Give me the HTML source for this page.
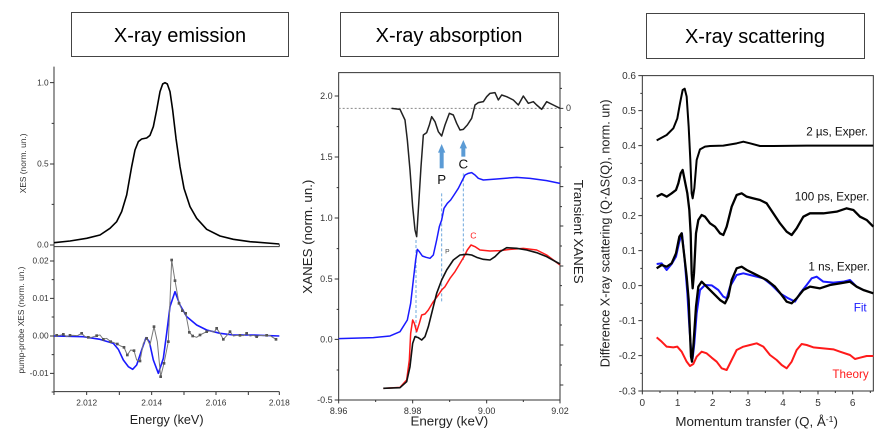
<!DOCTYPE html>
<html><head><meta charset="utf-8"><style>
html,body{margin:0;padding:0;background:#fff;}
svg{display:block;font-family:"Liberation Sans",sans-serif;}
.ax{stroke:#333;stroke-width:1;fill:none;vector-effect:non-scaling-stroke}
.c{fill:none;stroke-linejoin:round;vector-effect:non-scaling-stroke}
</style></head><body>
<svg width="888" height="432" viewBox="0 0 888 432" xmlns="http://www.w3.org/2000/svg">
<rect x="71.5" y="12.5" width="217" height="44" fill="#fff" stroke="#444" stroke-width="1"/>
<text x="180" y="42" font-size="20" text-anchor="middle" fill="#000">X-ray emission</text>
<rect x="340.5" y="12.5" width="218" height="44" fill="#fff" stroke="#444" stroke-width="1"/>
<text x="449" y="42" font-size="20" text-anchor="middle" fill="#000">X-ray absorption</text>
<rect x="646.5" y="13.5" width="218" height="45" fill="#fff" stroke="#444" stroke-width="1"/>
<text x="755" y="43" font-size="20" text-anchor="middle" fill="#000">X-ray scattering</text>

<!-- PANEL 1 -->
<g transform="translate(0,60) scale(0.33333)">
<path class="ax" d="M162 20V995H838M162 560H838"/>
<path class="ax" d="M150 68H162M150 312H162M150 555H162M155 190H162M155 433H162M150 603H162M150 715H162M150 828H162M150 940H162M155 659H162M155 771H162M155 884H162M155 996H162M162 995v10M260 995v10M358 995v10M455 995v10M552 995v10M648 995v10M745 995v10M838 995v10M838 553v7"/>
<g font-size="25" fill="#333" text-anchor="end">
<text x="146" y="76">1.0</text><text x="146" y="320">0.5</text><text x="146" y="563">0.0</text>
<text x="146" y="611">0.02</text><text x="146" y="723">0.01</text><text x="146" y="836">0.00</text><text x="146" y="948">-0.01</text>
</g>
<g font-size="25" fill="#333" text-anchor="middle">
<text x="260" y="1036">2.012</text><text x="455" y="1036">2.014</text><text x="648" y="1036">2.016</text><text x="838" y="1036">2.018</text>
</g>
<text x="500" y="1092" font-size="38" text-anchor="middle" fill="#222">Energy (keV)</text>
<text transform="translate(78,310) rotate(-90)" font-size="25" text-anchor="middle" fill="#333">XES (norm. un.)</text>
<text transform="translate(72,780) rotate(-90)" font-size="25" text-anchor="middle" fill="#333">pump-probe XES (norm. un.)</text>
<polyline class="c" stroke="#000" stroke-width="1.6" points="162,548 210,543 260,535 300,525 330,505 350,485 365,455 380,405 395,320 405,270 415,245 425,237 440,234 450,226 460,200 470,150 480,95 488,72 495,68 502,72 510,95 518,150 528,235 540,320 552,385 570,440 590,475 620,508 660,528 700,538 750,545 838,552"/>
<polyline class="c" stroke="#1a1aff" stroke-width="1.6" points="162,828 250,830 300,838 340,850 355,868 370,900 385,920 398,928 410,915 425,870 438,833 448,845 460,900 475,940 490,895 500,820 510,740 525,695 540,735 560,770 590,795 620,810 660,820 700,825 760,825 838,828"/>
<polyline class="c" stroke="#777" stroke-width="1" points="170,826 180,826 190,823 200,830 210,826 220,826 232,827 245,820 255,830 265,832 275,832 290,827 300,825 310,838 320,835 332,845 342,848 352,852 362,858 372,862 382,885 392,870 402,872 410,900 420,903 430,850 440,835 450,855 462,800 472,845 482,950 492,910 505,845 515,600 525,662 537,730 547,752 557,760 568,817 578,828 590,832 600,825 610,820 620,815 632,812 642,817 650,805 660,820 670,838 680,827 690,815 700,828 710,826 720,826 730,827 740,820 750,828 760,826 770,830 780,826 790,827 800,826 810,827 828,838"/>
<g fill="#555">
<rect x="166" y="822" width="8" height="8"/><rect x="186" y="819" width="8" height="8"/><rect x="206" y="822" width="8" height="8"/><rect x="241" y="816" width="8" height="8"/><rect x="261" y="828" width="8" height="8"/><rect x="286" y="823" width="8" height="8"/><rect x="306" y="834" width="8" height="8"/><rect x="328" y="841" width="8" height="8"/><rect x="348" y="848" width="8" height="8"/><rect x="368" y="858" width="8" height="8"/><rect x="378" y="881" width="8" height="8"/><rect x="398" y="868" width="8" height="8"/><rect x="416" y="899" width="8" height="8"/><rect x="436" y="831" width="8" height="8"/><rect x="458" y="796" width="8" height="8"/><rect x="478" y="946" width="8" height="8"/><rect x="488" y="906" width="8" height="8"/><rect x="501" y="841" width="8" height="8"/><rect x="511" y="596" width="8" height="8"/><rect x="521" y="658" width="8" height="8"/><rect x="533" y="726" width="8" height="8"/><rect x="543" y="748" width="8" height="8"/><rect x="553" y="756" width="8" height="8"/><rect x="564" y="813" width="8" height="8"/><rect x="574" y="824" width="8" height="8"/><rect x="596" y="821" width="8" height="8"/><rect x="616" y="811" width="8" height="8"/><rect x="646" y="801" width="8" height="8"/><rect x="666" y="834" width="8" height="8"/><rect x="686" y="811" width="8" height="8"/><rect x="716" y="822" width="8" height="8"/><rect x="736" y="816" width="8" height="8"/><rect x="766" y="826" width="8" height="8"/><rect x="796" y="822" width="8" height="8"/><rect x="824" y="834" width="8" height="8"/>
</g>
</g>

<!-- PANEL 2 -->
<g transform="translate(290,60) scale(0.33333)">
<path class="ax" d="M146 38H810V1020H146Z"/>
<path class="ax" d="M134 108H146M134 291H146M134 474H146M134 657H146M134 838H146M134 1020H146M140 200H146M140 383H146M140 566H146M140 748H146M140 930H146M146 1020v10M257 1020v6M368 1020v10M479 1020v6M590 1020v10M700 1020v6M810 1020v10M810 145h10M810 262h10M810 380h10M810 498h10M810 618h10M810 735h10M810 855h10M810 975h10M810 85h6M810 203h6M810 321h6M810 440h6M810 558h6M810 677h6M810 795h6M810 915h6"/>
<g font-size="27" fill="#333" text-anchor="end">
<text x="128" y="117">2.0</text><text x="128" y="300">1.5</text><text x="128" y="483">1.0</text><text x="128" y="666">0.5</text><text x="128" y="847">0.0</text><text x="128" y="1029">-0.5</text>
</g>
<text x="828" y="153" font-size="27" fill="#333">0</text>
<g font-size="27" fill="#333" text-anchor="middle">
<text x="146" y="1062">8.96</text><text x="368" y="1062">8.98</text><text x="590" y="1062">9.00</text><text x="810" y="1062">9.02</text>
</g>
<text x="478" y="1096" font-size="40" text-anchor="middle" fill="#222">Energy (keV)</text>
<text transform="translate(66,530) rotate(-90)" font-size="40" text-anchor="middle" fill="#222">XANES (norm. un.)</text>
<text transform="translate(852,515) rotate(90)" font-size="40" text-anchor="middle" fill="#222">Transient XANES</text>
<path d="M146 145H810" stroke="#888" stroke-width="1" stroke-dasharray="2,2" vector-effect="non-scaling-stroke" fill="none"/>
<path d="M378 540V830M455 400V730M520 340V600" stroke="#6fa8dc" stroke-width="1" stroke-dasharray="3,2" vector-effect="non-scaling-stroke" fill="none"/>
<polyline class="c" stroke="#222" stroke-width="1.5" points="305,145 330,148 345,180 352,240 360,330 368,440 375,510 380,530 385,450 393,320 400,225 410,218 418,195 425,170 435,185 445,215 455,228 465,195 478,160 490,165 500,190 510,210 520,208 532,195 545,175 555,135 565,128 580,125 590,110 600,100 615,98 625,120 635,105 650,110 670,120 685,135 700,108 715,130 730,125 740,135 755,148 770,125 790,135 810,145"/>
<polyline class="c" stroke="#1a1aff" stroke-width="1.5" points="146,836 250,833 300,828 330,815 352,780 362,730 370,660 377,600 382,568 388,575 397,588 408,592 420,595 430,585 440,540 448,500 455,480 462,445 472,430 482,420 492,405 505,385 515,365 525,345 535,340 545,338 555,345 565,355 580,360 620,357 680,352 720,355 770,362 810,370"/>
<polyline class="c" stroke="#ff1a1a" stroke-width="1.5" points="280,985 330,982 350,960 358,900 362,820 368,780 373,790 380,815 388,790 395,765 405,762 415,750 430,725 445,705 455,690 465,680 480,655 495,635 510,610 522,590 532,570 543,555 555,560 570,570 600,573 630,572 660,568 700,565 740,570 770,585 810,615"/>
<polyline class="c" stroke="#111" stroke-width="1.6" points="280,985 330,983 350,965 360,920 368,850 375,830 385,833 395,840 405,830 415,800 425,760 440,700 455,660 470,630 490,600 510,585 530,583 545,585 560,592 580,598 600,600 615,590 630,575 650,563 680,565 710,570 740,578 770,590 810,612"/>
<path d="M455 325V275" stroke="#5b9bd5" stroke-width="4" vector-effect="non-scaling-stroke"/>
<path d="M444 278L455 252L466 278Z" fill="#5b9bd5"/>
<path d="M520 290V262" stroke="#5b9bd5" stroke-width="4" vector-effect="non-scaling-stroke"/>
<path d="M509 265L520 240L531 265Z" fill="#5b9bd5"/>
<text x="455" y="372" font-size="40" text-anchor="middle" fill="#111">P</text>
<text x="520" y="325" font-size="40" text-anchor="middle" fill="#111">C</text>
<text x="472" y="580" font-size="20" text-anchor="middle" fill="#444">P</text>
<text x="550" y="536" font-size="26" text-anchor="middle" fill="#ff1a1a">C</text>
</g>

<!-- PANEL 3 -->
<g transform="translate(590,60) scale(0.33333)">
<path class="ax" d="M157 47H850V993H157Z"/>
<path class="ax" d="M145 47H157M145 152H157M145 257H157M145 362H157M145 467H157M145 572H157M145 677H157M145 782H157M145 887H157M145 993H157M151 100H157M151 205H157M151 310H157M151 415H157M151 520H157M151 625H157M151 730H157M151 835H157M151 940H157M157 993v10M263 993v10M368 993v10M474 993v10M579 993v10M684 993v10M788 993v10M210 993v6M315 993v6M421 993v6M526 993v6M631 993v6M736 993v6M841 993v6"/>
<g font-size="30" fill="#333" text-anchor="end">
<text x="138" y="57">0.6</text><text x="138" y="162">0.5</text><text x="138" y="267">0.4</text><text x="138" y="372">0.3</text><text x="138" y="477">0.2</text><text x="138" y="582">0.1</text><text x="138" y="687">0.0</text><text x="138" y="792">-0.1</text><text x="138" y="897">-0.2</text><text x="138" y="1003">-0.3</text>
</g>
<g font-size="30" fill="#333" text-anchor="middle">
<text x="157" y="1038">0</text><text x="263" y="1038">1</text><text x="368" y="1038">2</text><text x="474" y="1038">3</text><text x="579" y="1038">4</text><text x="684" y="1038">5</text><text x="788" y="1038">6</text>
</g>
<text x="500" y="1098" font-size="40" text-anchor="middle" fill="#222">Momentum transfer (Q, Å<tspan font-size="26" dy="-12">-1</tspan><tspan dy="12">)</tspan></text>
<text transform="translate(58,520) rotate(-90)" font-size="38" text-anchor="middle" fill="#222">Difference X-ray scattering (Q·ΔS(Q), norm. un)</text>
<polyline class="c" stroke="#000" stroke-width="2" points="200,241 230,225 250,205 262,175 270,130 278,90 284,86 290,110 296,200 301,300 305,400 308,415 313,385 320,300 330,268 345,260 360,258 400,257 440,250 460,245 480,250 510,258 550,258 650,257 850,257"/>
<polyline class="c" stroke="#000" stroke-width="2.3" points="200,410 215,402 230,410 245,400 258,390 265,370 272,340 278,330 284,360 292,400 298,450 302,520 305,640 308,685 312,640 318,520 325,480 335,465 345,470 360,490 375,500 390,520 400,525 410,500 425,440 440,405 455,400 470,410 490,415 510,420 530,430 550,460 570,490 590,515 605,525 620,505 640,470 660,460 700,460 740,455 770,445 790,450 810,470 830,480 850,500"/>
<polyline class="c" stroke="#1a1aff" stroke-width="2" points="200,612 215,610 230,630 245,612 258,590 268,545 276,520 284,600 292,700 298,800 304,880 308,895 313,850 320,760 330,690 345,675 365,676 385,690 400,710 410,715 420,680 440,645 460,640 480,645 500,650 520,655 545,675 570,700 595,715 615,725 630,700 650,675 665,655 680,650 700,665 730,668 760,665 780,660 800,680 820,690"/>
<polyline class="c" stroke="#000" stroke-width="2.3" points="200,625 215,615 230,620 245,610 258,580 268,530 275,520 282,580 290,650 296,720 300,820 303,890 306,905 310,860 318,740 325,680 335,665 350,680 370,700 390,720 405,730 415,710 425,660 440,625 455,620 470,630 490,640 510,650 530,660 555,680 575,705 590,725 605,730 620,715 640,690 660,680 690,685 720,675 750,670 780,665 800,680 820,690 850,700"/>
<polyline class="c" stroke="#ff1a1a" stroke-width="2" points="200,832 215,845 230,860 250,862 262,860 275,875 290,905 300,918 310,912 320,890 335,875 350,880 365,893 380,905 395,925 410,930 425,900 440,870 460,860 480,855 500,850 520,860 540,885 560,900 575,915 590,925 605,905 620,870 635,852 650,855 670,862 700,865 730,868 750,875 780,885 795,897 810,893 830,888 850,888"/>
<g font-size="35" text-anchor="end">
<text x="834" y="226" fill="#111">2 µs, Exper.</text>
<text x="838" y="422" fill="#111">100 ps, Exper.</text>
<text x="840" y="632" fill="#111">1 ns, Exper.</text>
<text x="830" y="754" fill="#1a1aff">Fit</text>
<text x="836" y="954" fill="#ff1a1a">Theory</text>
</g>
</g>
</svg>
</body></html>
